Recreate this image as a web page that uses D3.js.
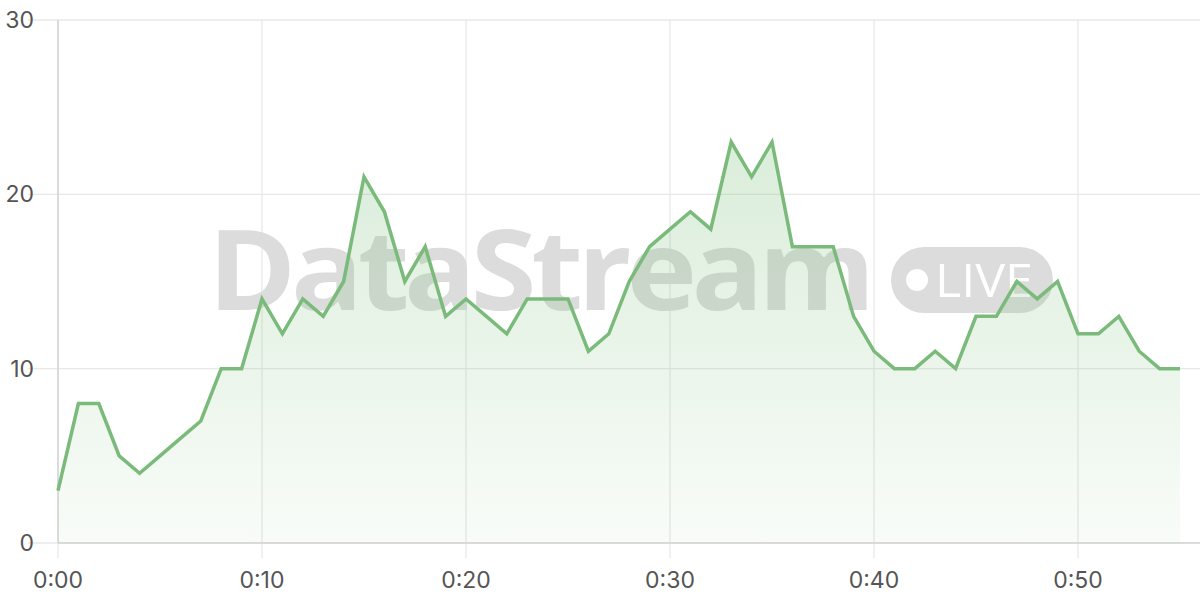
<!DOCTYPE html>
<html><head><meta charset="utf-8">
<script src="https://cdn.jsdelivr.net/npm/d3@7"></script>
<style>html,body{margin:0;padding:0;background:#fff;}svg{display:block;}</style>
</head><body>
<svg id="chart" width="1200" height="600"></svg>
<script>
const minutes = d3.range(0, 56);
const values = [3,8,8,5,4,5,6,7,10,10,14,12,14,13,15,21,19,15,17,13,14,13,12,14,14,14,11,12,15,17,18,19,18,23,21,23,17,17,17,13,11,10,10,11,10,13,13,15,14,15,12,12,13,11,10,10];
const xTicks = [0,10,20,30,40,50];
const xTickLabels = ["0:00","0:10","0:20","0:30","0:40","0:50"];
const yTicks = [0,10,20,30];
const watermarkText = "DataStream";
const liveText = "LIVE";

const svg = d3.select("#chart");
const m = {l:58, r:20, t:20, b:57};
const W = 1200, H = 600;
const x = d3.scaleLinear().domain([0,55]).range([m.l, W-m.r]);
const y = d3.scaleLinear().domain([0,30]).range([H-m.b, m.t]);

// grid
svg.append("g").selectAll("line").data(yTicks).join("line")
  .attr("x1", m.l-30).attr("x2", W).attr("y1", d=>y(d)).attr("y2", d=>y(d))
  .attr("stroke", "#e8e8e8").attr("stroke-width", 1.3);
svg.append("g").selectAll("line").data(xTicks).join("line")
  .attr("x1", d=>x(d)).attr("x2", d=>x(d)).attr("y1", m.t).attr("y2", H-m.b+15)
  .attr("stroke", "#e8e8e8").attr("stroke-width", 1.3);

// axis lines
svg.append("line").attr("x1", m.l).attr("x2", m.l).attr("y1", m.t).attr("y2", H-m.b)
  .attr("stroke", "#d4d4d4").attr("stroke-width", 1.5);
svg.append("line").attr("x1", m.l).attr("x2", W).attr("y1", y(0)).attr("y2", y(0))
  .attr("stroke", "#d4d4d4").attr("stroke-width", 1.5);

// watermark
const wm = svg.append("g");
wm.append("text").attr("x", 208).attr("y", 310).text(watermarkText)
  .attr("font-family", "Open Sans, Noto Sans, sans-serif").attr("font-weight", 700)
  .attr("font-size", 112).attr("fill", "#dcdcdc").attr("letter-spacing", -5)
  .attr("textLength", 662).attr("lengthAdjust", "spacingAndGlyphs");
wm.append("rect").attr("x", 891).attr("y", 247).attr("width", 162).attr("height", 66)
  .attr("rx", 33).attr("fill", "#dcdcdc");
wm.append("circle").attr("cx", 917).attr("cy", 280).attr("r", 11).attr("fill", "#fff");
wm.append("text").attr("x", 935).attr("y", 297).text(liveText)
  .attr("font-family", "Open Sans, Noto Sans, sans-serif").attr("font-weight", 400)
  .attr("font-size", 46).attr("fill", "#fff")
  .attr("textLength", 98).attr("lengthAdjust", "spacingAndGlyphs");

// gradient
const defs = svg.append("defs");
const g = defs.append("linearGradient").attr("id","ag")
  .attr("gradientUnits","userSpaceOnUse").attr("x1",0).attr("x2",0).attr("y1",y(23)).attr("y2",y(0));
g.append("stop").attr("offset","0%").attr("stop-color","#7cbf7c").attr("stop-opacity",0.28);
g.append("stop").attr("offset","100%").attr("stop-color","#7cbf7c").attr("stop-opacity",0.05);

const data = minutes.map((mm,i)=>({m:mm, v:values[i]}));
const area = d3.area().x(d=>x(d.m)).y0(y(0)).y1(d=>y(d.v));
const line = d3.line().x(d=>x(d.m)).y(d=>y(d.v));
svg.append("path").datum(data).attr("d", area).attr("fill","url(#ag)");
svg.append("path").datum(data).attr("d", line).attr("fill","none")
  .attr("stroke","#7aba7a").attr("stroke-width",3.5).attr("stroke-linejoin","miter");

// tick labels
svg.append("g").selectAll("text").data(yTicks).join("text")
  .attr("x", 34).attr("y", d=>y(d)+8).attr("text-anchor","end")
  .attr("font-family","Inter, Open Sans, sans-serif").attr("font-size",23).attr("fill","#555")
  .text(d=>d);
svg.append("g").selectAll("text").data(xTicks).join("text")
  .attr("x", d=>x(d)).attr("y", 588).attr("text-anchor","middle")
  .attr("font-family","Inter, Open Sans, sans-serif").attr("font-size",23).attr("fill","#555")
  .text((d,i)=>xTickLabels[i]);
</script>
</body></html>
